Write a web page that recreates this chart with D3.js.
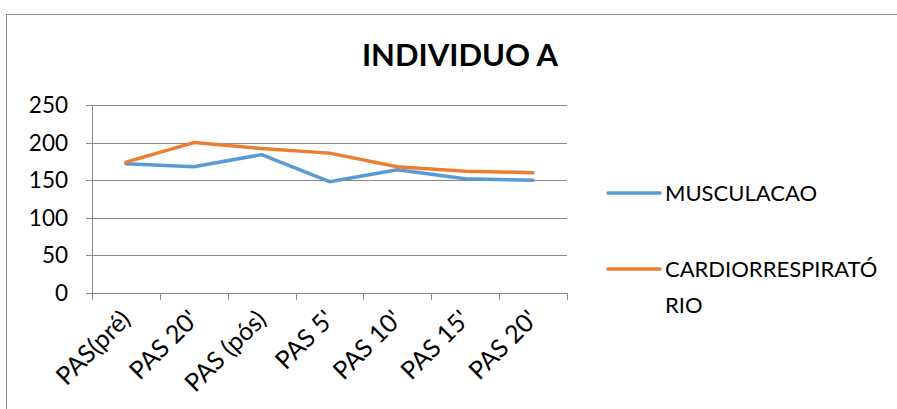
<!DOCTYPE html>
<html><head><meta charset="utf-8">
<script src="https://cdn.jsdelivr.net/npm/d3@7"></script>
<style>body{margin:0;background:#fff;} text{font-family:Lato,"Open Sans",sans-serif;}</style>
</head><body><svg id="c" width="897" height="409"></svg>
<script>
const categories = ["PAS(pré)", "PAS 20'", "PAS (pós)", "PAS 5'", "PAS 10'", "PAS 15'", "PAS 20'"];
const musculacao = [172, 168, 184, 148, 164, 152, 150];
const cardio = [174, 200, 192, 186, 168, 162, 160];
const yTicks = [0, 50, 100, 150, 200, 250];
const seriesNames = ["MUSCULACAO", "CARDIORRESPIRATÓ|RIO"];
const colors = ["#5B9BD5", "#ED7D31"];

(function(){
const svg = d3.select("#c");
svg.append("rect").attr("x",6.5).attr("y",14.5).attr("width",900).attr("height",400)
  .attr("fill","#fff").attr("stroke","#8c8c8c").attr("stroke-width",1);

const pL=92, pR=567, pT=105, pB=293;
const idx = categories.map((d,i)=>i);
const x = d3.scaleBand().domain(idx).range([pL,pR]).padding(0);
const y = d3.scaleLinear().domain([0,250]).range([pB,pT]);

svg.append("text").attr("x",460).attr("y",66).attr("text-anchor","middle")
  .attr("font-size",31).attr("font-weight","bold").attr("fill","#000").text("INDIVIDUO A");

svg.append("g").selectAll("line").data(yTicks).join("line")
  .attr("x1",pL-6).attr("x2",pR).attr("y1",d=>Math.round(y(d))+0.5).attr("y2",d=>Math.round(y(d))+0.5)
  .attr("stroke","#898989").attr("stroke-width",1);
svg.append("line").attr("x1",pL+0.5).attr("x2",pL+0.5).attr("y1",pT).attr("y2",pB+7)
  .attr("stroke","#898989");
const xt = d3.range(categories.length+1).map(i=>pL + i*x.bandwidth());
svg.append("g").selectAll("line").data(xt).join("line")
  .attr("x1",d=>Math.round(d)+0.5).attr("x2",d=>Math.round(d)+0.5).attr("y1",pB).attr("y2",pB+7)
  .attr("stroke","#898989");
svg.append("g").selectAll("text").data(yTicks).join("text")
  .attr("x",pL-24).attr("y",d=>y(d)+8).attr("text-anchor","end")
  .attr("font-size",22.5).attr("fill","#000").text(d=>d);
svg.append("g").selectAll("text").data(idx).join("text")
  .attr("transform",i=>`translate(${x(i)+x.bandwidth()/2+6},${pB+28}) rotate(-45)`)
  .attr("text-anchor","end").attr("font-size",25).attr("fill","#000").text(i=>categories[i]);

const line = d3.line().x((d,i)=>x(i)+x.bandwidth()/2).y(d=>y(d));
[musculacao, cardio].forEach((s,k)=>{
  svg.append("path").attr("d",line(s)).attr("fill","none").attr("stroke",colors[k])
    .attr("stroke-width",3.5).attr("stroke-linejoin","round").attr("stroke-linecap","round");
});

const ly=[193,269];
seriesNames.forEach((n,k)=>{
  svg.append("line").attr("x1",608).attr("x2",660).attr("y1",ly[k]).attr("y2",ly[k])
    .attr("stroke",colors[k]).attr("stroke-width",3.5).attr("stroke-linecap","round");
  const t = svg.append("text").attr("x",665).attr("y",ly[k]+8).attr("font-size",22).attr("fill","#000");
  n.split("|").forEach((p,j)=>t.append("tspan").attr("x",665).attr("dy",j?36:0).text(p));
});
})();
</script></body></html>
